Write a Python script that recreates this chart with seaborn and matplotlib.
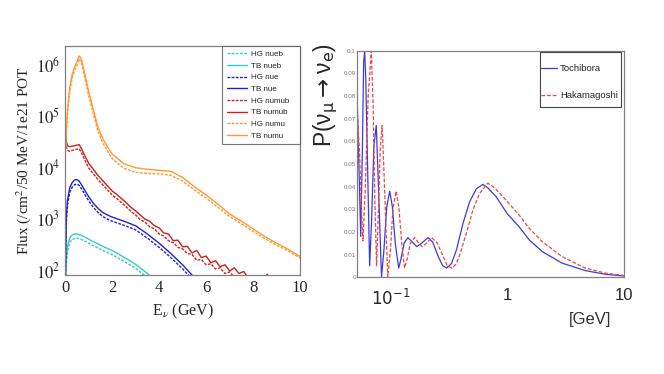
import matplotlib
matplotlib.use("Agg")
import numpy as np
import pandas as pd
import matplotlib.pyplot as plt
import seaborn as sns
from matplotlib.patches import Rectangle
from matplotlib.ticker import FixedLocator, FixedFormatter, LogLocator, NullFormatter, MultipleLocator, FuncFormatter

# ---- left panel: flux vs energy (log10 of flux) ----
e_grid = [0.0, 0.05, 0.1, 0.2, 0.3, 0.4, 0.5, 0.6, 0.7, 0.8, 1.0, 1.2, 1.4, 1.6, 1.8, 2.0,
          2.5, 3.0, 3.5, 4.0, 4.5, 5.0, 5.5, 6.0, 6.5, 7.0, 7.5, 8.0, 8.5, 9.0, 9.5, 10.0]

numu_tb_log = [4.2, 4.7, 5.1, 5.55, 5.8, 5.95, 6.05, 6.17, 6.1, 5.9, 5.48, 5.12, 4.78, 4.56, 4.40, 4.26,
               4.07, 3.99, 3.96, 3.94, 3.92, 3.80, 3.62, 3.46, 3.28, 3.09, 2.95, 2.80, 2.65, 2.52, 2.40, 2.26]
numu_hg_log = [4.12, 4.62, 5.03, 5.48, 5.73, 5.88, 5.98, 6.11, 6.03, 5.82, 5.40, 5.04, 4.70, 4.48, 4.32, 4.17,
               3.98, 3.90, 3.88, 3.87, 3.84, 3.73, 3.56, 3.40, 3.22, 3.04, 2.90, 2.75, 2.61, 2.48, 2.37, 2.23]
nue_tb_log = [1.5, 3.0, 3.35, 3.6, 3.7, 3.75, 3.76, 3.73, 3.66, 3.58, 3.43, 3.30, 3.20, 3.12, 3.07, 3.03,
              2.95, 2.86, 2.70, 2.52, 2.32, 2.10, 1.85, 1.6, 1.4, 1.2, 1.0, 1.0, 1.0, 1.0, 1.0, 1.0]
nue_hg_log = [1.4, 2.9, 3.26, 3.51, 3.61, 3.66, 3.67, 3.65, 3.58, 3.50, 3.35, 3.22, 3.12, 3.04, 2.99, 2.95,
              2.87, 2.78, 2.62, 2.44, 2.24, 2.02, 1.78, 1.55, 1.35, 1.15, 1.0, 1.0, 1.0, 1.0, 1.0, 1.0]
nueb_tb_log = [1.0, 2.2, 2.45, 2.63, 2.68, 2.70, 2.70, 2.69, 2.67, 2.65, 2.60, 2.55, 2.51, 2.46, 2.42, 2.38,
               2.25, 2.11, 1.93, 1.72, 1.5, 1.3, 1.1, 1.0, 1.0, 1.0, 1.0, 1.0, 1.0, 1.0, 1.0, 1.0]
nueb_hg_log = [1.0, 2.1, 2.36, 2.54, 2.59, 2.61, 2.62, 2.61, 2.59, 2.57, 2.52, 2.47, 2.43, 2.38, 2.34, 2.30,
               2.17, 2.03, 1.85, 1.64, 1.42, 1.22, 1.05, 1.0, 1.0, 1.0, 1.0, 1.0, 1.0, 1.0, 1.0, 1.0]

# numub is noisy at high energy, so it is read on a finer grid
e_numub = [0.0, 0.05, 0.1, 0.2, 0.3, 0.4, 0.5, 0.6, 0.7, 0.8,
           1.0, 1.2, 1.4, 1.6, 1.8, 2.0, 2.2, 2.4, 2.6, 2.8, 3.0, 3.2, 3.4, 3.6, 3.8, 4.0,
           4.2, 4.4, 4.6, 4.8, 5.0, 5.2, 5.4, 5.6, 5.8, 6.0, 6.2, 6.4, 6.6, 6.8, 7.0,
           7.2, 7.4, 7.6, 7.8, 8.0, 8.2, 8.4, 8.6, 8.8, 9.0, 9.5, 10.0]
numub_tb_log = [4.75, 4.5, 4.42, 4.40, 4.41, 4.42, 4.43, 4.44, 4.36, 4.26,
                4.08, 3.96, 3.84, 3.74, 3.64, 3.54, 3.47, 3.39, 3.31, 3.22, 3.15, 3.07, 2.99, 2.95, 2.86, 2.82,
                2.72, 2.70, 2.57, 2.58, 2.45, 2.46, 2.33, 2.38, 2.24, 2.27, 2.14, 2.18, 2.06, 2.10, 1.98,
                2.04, 1.93, 1.97, 1.84, 1.80, 1.70, 1.75, 1.92, 1.65, 1.6, 1.5, 1.5]
numub_hg_log = [4.65, 4.4, 4.33, 4.31, 4.33, 4.34, 4.35, 4.36, 4.28, 4.18,
                3.99, 3.87, 3.76, 3.66, 3.56, 3.46, 3.39, 3.31, 3.23, 3.14, 3.07, 2.98, 2.93, 2.84, 2.80, 2.70,
                2.66, 2.57, 2.53, 2.44, 2.41, 2.32, 2.30, 2.19, 2.20, 2.10, 2.12, 2.02, 2.04, 1.93, 1.96,
                1.86, 1.88, 1.78, 1.80, 1.70, 1.65, 1.6, 1.55, 1.5, 1.5, 1.5, 1.5]

flux_ticks = [1e2, 1e3, 1e4, 1e5, 1e6]
flux_ticklabels = [r"$10^{2}$", r"$10^{3}$", r"$10^{4}$", r"$10^{5}$", r"$10^{6}$"]

# ---- right panel: appearance probability ----
e_tochibora = [0.052, 0.054, 0.0557, 0.0575, 0.059, 0.0602, 0.0615, 0.064, 0.0664, 0.069, 0.0722, 0.0757,
               0.079, 0.0839, 0.088, 0.093, 0.0986, 0.104, 0.11, 0.1177, 0.123, 0.131, 0.141, 0.154,
               0.168, 0.185, 0.21, 0.23, 0.257, 0.28, 0.302, 0.333, 0.367, 0.418, 0.477, 0.543,
               0.618, 0.68, 0.802, 1.0, 1.26, 1.54, 1.99, 2.94, 4.64, 6.86, 10.0]
p_tochibora = [0.078, 0.045, 0.018, 0.055, 0.095, 0.1, 0.088, 0.045, 0.005, 0.025, 0.058, 0.067,
               0.04, 0.0, 0.012, 0.031, 0.038, 0.031, 0.015, 0.004, 0.008, 0.015, 0.0175, 0.0155,
               0.0135, 0.015, 0.0175, 0.0155, 0.009, 0.005, 0.004, 0.006, 0.012, 0.0238, 0.0334, 0.039,
               0.041, 0.0395, 0.0356, 0.028, 0.0223, 0.0165, 0.0113, 0.0062, 0.0029, 0.0013, 0.0005]

e_hakamagoshi = [0.052, 0.0545, 0.0565, 0.0582, 0.061, 0.0645, 0.0686, 0.0712, 0.0735, 0.0761, 0.079,
                 0.082, 0.085, 0.089, 0.0948, 0.1, 0.105, 0.1117, 0.118, 0.125, 0.132, 0.139, 0.148,
                 0.161, 0.172, 0.186, 0.204, 0.225, 0.252, 0.283, 0.307, 0.333, 0.365, 0.392, 0.446,
                 0.508, 0.579, 0.681, 0.78, 1.0, 1.26, 1.54, 1.99, 2.94, 4.64, 6.86, 10.0]
p_hakamagoshi = [0.072, 0.055, 0.03, 0.016, 0.04, 0.08, 0.1, 0.075, 0.035, 0.005, 0.03,
                 0.058, 0.067, 0.04, 0.0, 0.012, 0.03, 0.038, 0.031, 0.015, 0.004, 0.008, 0.015,
                 0.0175, 0.0155, 0.0135, 0.015, 0.0175, 0.015, 0.009, 0.005, 0.004, 0.0058, 0.0098, 0.0194,
                 0.0297, 0.037, 0.0415, 0.0395, 0.0334, 0.0275, 0.0216, 0.0157, 0.0091, 0.004, 0.0018, 0.0007]

osc_xticks = [0.1, 1, 10]
osc_xticklabels = [r"$10^{-1}$", "1", "10"]

# ---- style ----
sns.set_style("white")
plt.rcParams["font.family"] = ["Liberation Sans", "DejaVu Sans"]
plt.rcParams["mathtext.fontset"] = "stix"

fig = plt.figure(figsize=(6.64, 3.74), dpi=100)
ax1 = fig.add_axes([0.098, 0.265, 0.354, 0.612])
ax2 = fig.add_axes([0.538, 0.259, 0.402, 0.605])

frame_col = "#808080"
serif = ["Liberation Serif", "DejaVu Serif"]

# colours of the flux curves
c_nueb = "#33cccc"
c_nue = "#2222cc"
c_numub = "#cc1f1f"
c_numu = "#ff9933"

flux_series = [
    ("HG nueb", e_grid, nueb_hg_log, c_nueb, (0, (2, 1))),
    ("TB nueb", e_grid, nueb_tb_log, c_nueb, "-"),
    ("HG nue", e_grid, nue_hg_log, c_nue, (0, (2, 1))),
    ("TB nue", e_grid, nue_tb_log, c_nue, "-"),
    ("HG numub", e_numub, numub_hg_log, c_numub, (0, (2, 1))),
    ("TB numub", e_numub, numub_tb_log, c_numub, "-"),
    ("HG numu", e_grid, numu_hg_log, c_numu, (0, (2, 1))),
    ("TB numu", e_grid, numu_tb_log, c_numu, "-"),
]
for name, ee, lv, col, ls in flux_series:
    df = pd.DataFrame({"E": ee, "flux": 10 ** np.array(lv)})
    sns.lineplot(data=df, x="E", y="flux", ax=ax1, color=col, linestyle=ls, lw=1.0, label=name)

ax1.set_yscale("log")
ax1.set_xlim(0, 10)
ax1.set_ylim(80, 2.3e6)
ax1.yaxis.set_major_locator(FixedLocator(flux_ticks))
ax1.yaxis.set_major_formatter(FixedFormatter(flux_ticklabels))
ax1.yaxis.set_minor_locator(LogLocator(base=10, subs=np.arange(2, 10)))
ax1.yaxis.set_minor_formatter(NullFormatter())
ax1.xaxis.set_major_locator(MultipleLocator(2))
ax1.xaxis.set_minor_locator(MultipleLocator(0.5))
ax1.tick_params(which="both", direction="in", color="#555555", labelsize=12)
ax1.tick_params(which="major", length=5)
ax1.tick_params(which="minor", length=3)
for lbl in ax1.get_xticklabels() + ax1.get_yticklabels():
    lbl.set_fontfamily(serif)
ax1.set_xlabel(r"E$_{\nu}$ (GeV)", fontsize=11.5, family=serif, labelpad=4)
ax1.set_ylabel(r"Flux (/cm$^{2}$/50 MeV/1e21 POT", fontsize=11, family=serif, labelpad=2)
for sp in ax1.spines.values():
    sp.set_color(frame_col)
    sp.set_linewidth(0.9)

leg1 = ax1.legend(loc="upper left", bbox_to_anchor=(0.668, 0.0, 0.332, 1.0), mode="expand",
                  fontsize=5.8, frameon=True, fancybox=False, borderaxespad=0,
                  handlelength=2.6, labelspacing=0.5, borderpad=0.55, handletextpad=0.5)
leg1.get_frame().set_edgecolor("#555555")
leg1.get_frame().set_linewidth(0.8)

# ---- right panel ----
sns.lineplot(x=e_tochibora, y=p_tochibora, ax=ax2, color="#3b3bdd", lw=0.9, label="Tochibora")
sns.lineplot(x=e_hakamagoshi, y=p_hakamagoshi, ax=ax2, color="#ee4444", lw=0.9,
             linestyle=(0, (3, 1.5)), label="Hakamagoshi")
ax2.set_xscale("log")
ax2.set_xlim(0.052, 10)
ax2.set_ylim(0, 0.1)
ax2.set_xticks(osc_xticks)
ax2.set_xticklabels(osc_xticklabels, fontsize=12)
for lbl in ax2.get_xticklabels():
    lbl.set_math_fontfamily("dejavusans")
ax2.xaxis.set_minor_locator(LogLocator(base=10, subs=np.arange(2, 10)))
ax2.xaxis.set_minor_formatter(NullFormatter())
ax2.yaxis.set_major_locator(MultipleLocator(0.01))
ax2.yaxis.set_minor_locator(MultipleLocator(0.002))
ax2.yaxis.set_major_formatter(FuncFormatter(lambda v, p: "%g" % round(v, 3)))
ax2.tick_params(which="both", direction="in", color="#444444")
ax2.tick_params(axis="y", labelsize=4.5, labelcolor="#777777", pad=1)
ax2.tick_params(axis="x", pad=8)
ax2.tick_params(which="major", length=6)
ax2.tick_params(which="minor", length=3)
ax2.set_xlabel("")
ax2.set_ylabel("")
for sp in ax2.spines.values():
    sp.set_color(frame_col)
    sp.set_linewidth(0.9)

fig.text(0.889, 0.145, "[GeV]", fontsize=12, ha="center", va="center", color="#333333")
fig.text(0.49, 0.745, r"P(ν$_{\mathrm{\mu}}$$\rightarrow$ν$_{\mathrm{e}}$)", fontsize=16.5,
         rotation=90, ha="center", va="center", math_fontfamily="dejavusans")

# legend box drawn by hand, the legend entries sit inside with generous row spacing
ax2.add_patch(Rectangle((0.685, 0.752), 0.303, 0.244, transform=ax2.transAxes, fill=True,
                        facecolor="white", edgecolor="#444444", lw=0.8, zorder=4))
leg2 = ax2.legend(loc="upper left", bbox_to_anchor=(0.688, 0.94), frameon=False,
                  fontsize=6.8, borderaxespad=0, borderpad=0, handlelength=1.7,
                  labelspacing=1.85, handletextpad=0.3)
leg2.set_zorder(5)

fig.savefig("out.png", dpi=100)
